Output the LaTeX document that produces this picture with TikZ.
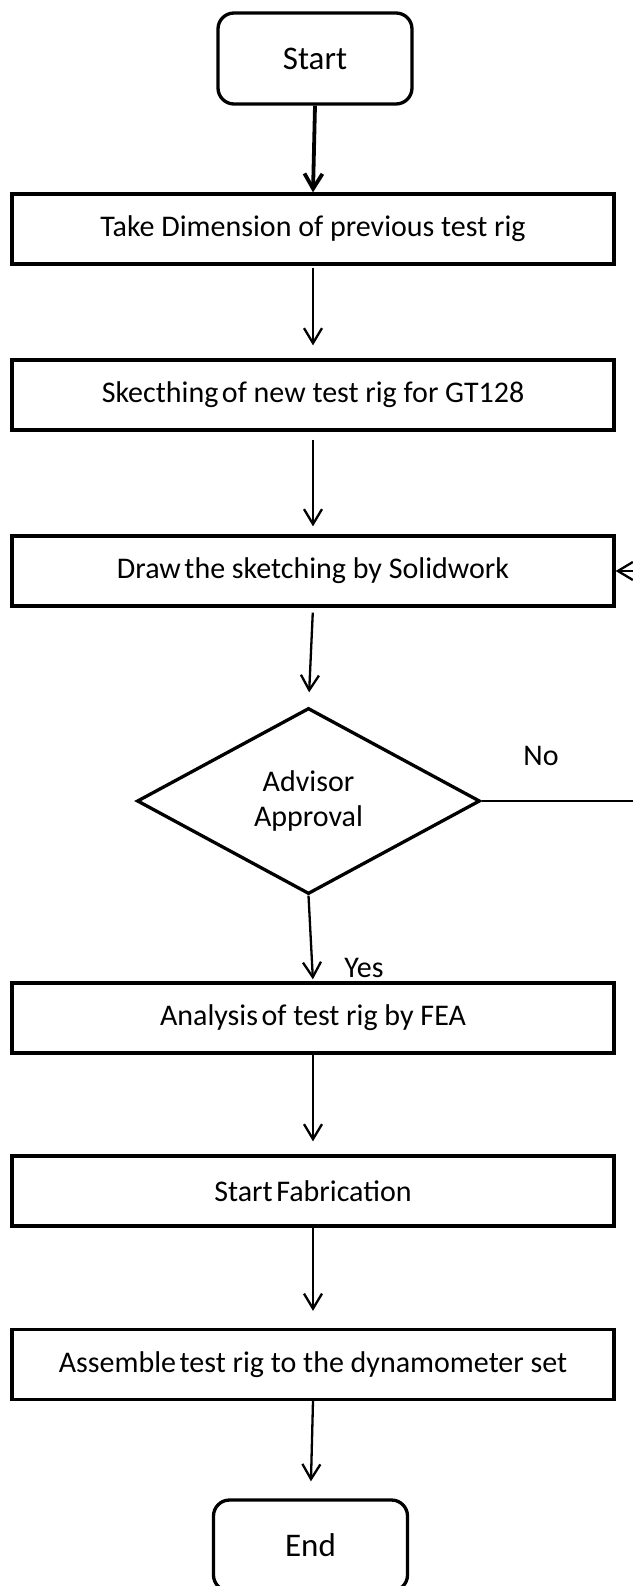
\documentclass[tikz,border=0pt]{standalone}
\usepackage{fontspec}
\setmainfont{Carlito}
\usetikzlibrary{arrows.meta,shapes.geometric}
\newcommand{\tsp}{\hspace{0.12em}}
\begin{document}
\begin{tikzpicture}[x=1pt,y=-1pt,
  every node/.style={font=\fontsize{30}{35}\selectfont},
  stepbox/.style={draw, line width=3.3pt, minimum width=602pt, minimum height=70pt, inner sep=0pt},
  termbox/.style={draw, line width=3.3pt, rounded corners=16pt, minimum width=194pt,
    minimum height=91pt, inner sep=0pt, font=\fontsize{33}{40}\selectfont},
  decision/.style={draw, diamond, line width=3.3pt, minimum width=343pt, minimum height=186pt,
    inner sep=0pt, align=center},
  flow/.style={line width=2.3pt, -{Straight Barb[length=15pt,width=18pt]}},
  lbl/.style={inner sep=0pt},
]
\useasboundingbox (0,0) rectangle (632,1586);

% terminals, steps and the decision
\node[termbox] (start) at (315,58.5) {Start};
\node[stepbox] (s1) at (313,229) {Take Dimension of previous test rig};
\node[stepbox] (s2) at (313,395) {Skecthing\tsp of new test rig for GT128};
\node[stepbox] (s3) at (313,571) {Draw\tsp the sketching by Solidwork};
\node[decision] (dec) at (308.5,801) {Advisor\\Approval};
\node[stepbox] (s4) at (313,1018) {Analysis\tsp of test rig by FEA};
\node[stepbox] (s5) at (313,1191) {Start\tsp Fabrication};
\node[stepbox] (s6) at (313,1364.5) {Assemble\tsp test rig to the dynamometer set};
\node[termbox] (end) at (310.5,1545.5) {End};

% branch labels
\node[lbl] (no) at (541,756) {No};
\node[lbl] (yes) at (364,968) {Yes};

% main flow
\draw[flow, line width=3.8pt] (start.south) -- (s1.north);
\draw[flow, shorten <=2pt, shorten >=13pt] (s1.south) -- (s2.north);
\draw[flow, shorten <=8pt, shorten >=8pt] (s2.south) -- (s3.north);
\draw[flow, shorten <=5pt, shorten >=14pt] (s3.south) -- (dec.north);
\draw[flow, shorten >=2pt] (dec.south) -- (s4.north);
\draw[flow, shorten >=13pt] (s4.south) -- (s5.north);
\draw[flow, shorten >=17pt] (s5.south) -- (s6.north);
\draw[flow, shorten >=17pt] (s6.south) -- (end.north);

% rejection loops back to the drawing step
\coordinate (rt) at (650,0);
\draw[flow] (dec.east) -- (dec.east -| rt) |- (s3.east);
\end{tikzpicture}
\end{document}
